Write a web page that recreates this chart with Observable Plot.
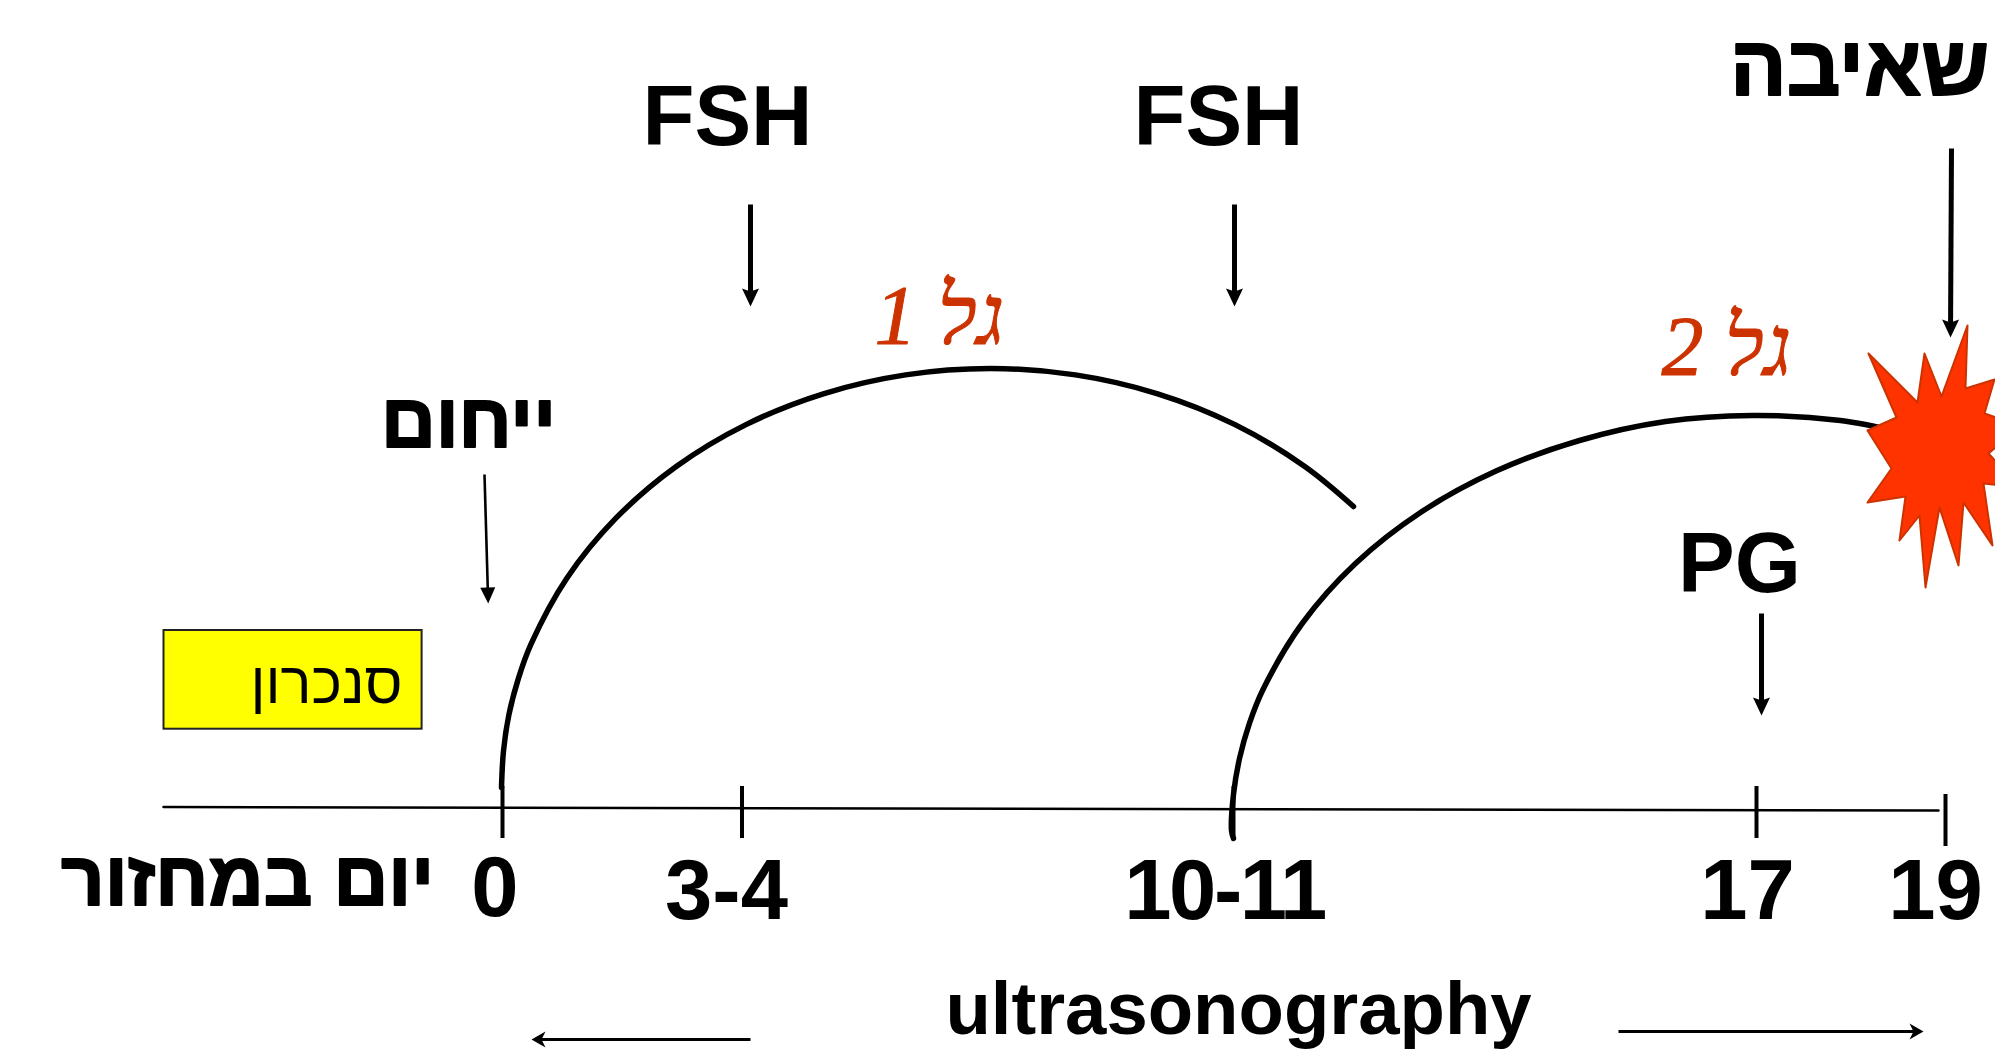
<!DOCTYPE html>
<html lang="he">
<head>
<meta charset="utf-8">
<title>Synchronisation protocol</title>
<style>
  html, body { margin: 0; padding: 0; background: #fff; overflow: hidden; }
  #chart svg { display: block; max-width: none; }
  .tight text { letter-spacing: -2.4px; }
</style>
<script src="https://cdn.jsdelivr.net/npm/d3@7"></script>
<script src="https://cdn.jsdelivr.net/npm/@observablehq/plot@0.6"></script>
</head>
<body>
<div id="chart"></div>
<script>
// Diagram, in the picture's own units.
const dayTickX = [502, 741.5, 1233, 1756];
const lastDayTickX = [1945];
const dayTexts = ["0", "3-4", "17", "19"];
const dayTextX = [494.5, 726, 1747, 1935];
const dayTextY = [915, 918, 918, 918];
const wideDayText = ["10-11"];

const latinLabels = ["FSH", "FSH", "PG"];
const latinLabelX = [727, 1218, 1739];
const latinLabelY = [144, 144, 591];

const hebrewLabels = ["ייחום", "יום במחזור"];
const hebrewLabelX = [468, 247];
const hebrewLabelY = [446, 904];
const pumpLabel = ["שאיבה"];

const waveLabels = ["1 גל", "2 גל"];
const waveLabelX = [939, 1726];
const waveLabelY = [343, 374];

const axisXs = [163, 1938];
const axisYs = [806.5, 810];

const wave1 = [[501,787],[503,750.5],[508.4,714.3],[517.7,678.6],[530.5,643.7],[566.5,577.5],[615.4,517.7],[675.7,466],[745.5,424.1],[822.8,393.3],[905.1,374.4],[990,368],[1074.9,374.4],[1157.2,393.3],[1234.5,424.1],[1304.3,466],[1353,506]];
const wave2 = [[1233,838],[1231,830],[1233,793.8],[1239,758],[1249,722.6],[1263,688],[1302,622.5],[1355,563],[1420,512],[1495.5,470.6],[1579,440],[1665,421],[1752,415],[1840,420],[1897,431]];
const burst = [[1867,430],[1896,417],[1868,353],[1917,402],[1924,353],[1941,396],[1967,325],[1965,388],[1994,379],[1984,413],[2020,425],[1988,453],[2020,487],[1983,483],[1992,545],[1963,502],[1958,565],[1939,507],[1925,587],[1919,515],[1899,540],[1905,496],[1867,502],[1891,468],[1867,430]];

// From x, from y, to x, to y.
const heavyArrows = [[750,204,750,306],[1234,204,1234,306],[1761,613,1761,715],[1951,148,1950,337]];
const thinArrows = [[484,474,487.7,603]];
const timeArrows = [[750,1039,531,1039],[1618,1031,1923,1031]];

const syncBox = [[163.5, 421.6, 630, 728.7]];
const syncText = ["סנכרון"];

const SANS = "Liberation Sans, Arial, sans-serif";
const head = (w, l, n) => ({
  draw(c) { c.moveTo(0, 0); c.lineTo(w, -l); c.lineTo(0, -n); c.lineTo(-w, -l); c.closePath(); }
});
const angle = ([x1, y1, x2, y2]) => Math.atan2(x1 - x2, y2 - y1) * 180 / Math.PI;
const trim = (a, by) => {
  const [x1, y1, x2, y2] = a, d = Math.hypot(x2 - x1, y2 - y1);
  return [x1, y1, x2 - (x2 - x1) / d * by, y2 - (y2 - y1) / d * by];
};
const shaft = (data, width, by) => Plot.link(data.map(a => trim(a, by)), {
  x1: d => d[0], y1: d => d[1], x2: d => d[2], y2: d => d[3], stroke: "#000", strokeWidth: width
});
const tips = (data, symbol) => Plot.dot(data, {
  x: d => d[2], y: d => d[3], r: 1, symbol, rotate: angle, fill: "#000", stroke: "none"
});
const labels = (texts, xs, ys, options) => Plot.text(texts, {
  x: (d, i) => xs[i], y: (d, i) => ys[i], text: d => d,
  textAnchor: "middle", lineAnchor: "bottom", fill: "#000", fontFamily: SANS, ...options
});

const chart = Plot.plot({
  width: 1995, height: 1049,
  marginTop: 0, marginRight: 0, marginBottom: 0, marginLeft: 0,
  style: { background: "#fff", overflow: "hidden" },
  x: { domain: [0, 1995], range: [0, 1995], axis: null },
  y: { domain: [0, 1049], range: [0, 1049], axis: null },
  marks: [
    Plot.rect(syncBox, {
      x1: d => d[0], x2: d => d[1], y1: d => d[2], y2: d => d[3],
      fill: "#ffff00", stroke: "#222", strokeWidth: 2
    }),
    labels(syncText, [326], [702], { fontSize: 58 }),

    Plot.line(axisXs.map((x, i) => [x, axisYs[i]]), { x: d => d[0], y: d => d[1], stroke: "#000", strokeWidth: 2.5 }),
    Plot.ruleX(dayTickX, { y1: 786, y2: 838, stroke: "#000", strokeWidth: 4 }),
    Plot.ruleX(lastDayTickX, { y1: 794, y2: 846, stroke: "#000", strokeWidth: 4 }),

    Plot.line(wave1, { x: d => d[0], y: d => d[1], curve: "catmull-rom", stroke: "#000", strokeWidth: 5.5, strokeLinecap: "round" }),
    Plot.line(wave2, { x: d => d[0], y: d => d[1], curve: "catmull-rom", stroke: "#000", strokeWidth: 5.5, strokeLinecap: "round" }),
    Plot.line(burst, { x: d => d[0], y: d => d[1], fill: "#ff3300", stroke: "#cc3300", strokeWidth: 2, clip: true }),

    shaft(heavyArrows, 5, 12), tips(heavyArrows, head(8.5, 18, 15)),
    shaft(thinArrows, 2.6, 12), tips(thinArrows, head(7.5, 16, 16)),
    shaft(timeArrows, 3, 8), tips(timeArrows, head(8, 14, 10)),

    labels(dayTexts, dayTextX, dayTextY, { fontSize: 85, fontWeight: 700 }),
    labels(wideDayText, [1224], [918], { fontSize: 85, fontWeight: 700, className: "tight" }),
    labels(latinLabels, latinLabelX, latinLabelY, { fontSize: 85, fontWeight: 700 }),
    labels(hebrewLabels, hebrewLabelX, hebrewLabelY, { fontSize: 76, fontWeight: 700, stroke: "#000", strokeWidth: 2 }),
    labels(pumpLabel, [1859], [94], { fontSize: 84, fontWeight: 700, stroke: "#000", strokeWidth: 2 }),
    labels(["ultrasonography"], [1238], [1033], { fontSize: 74.3, fontWeight: 700 }),
    labels(waveLabels, waveLabelX, waveLabelY, {
      fontSize: 84, fontStyle: "italic", fontFamily: "Liberation Serif, serif",
      fill: "#cc3300", stroke: "#cc3300", strokeWidth: 1
    })
  ]
});
document.getElementById("chart").append(chart);
</script>
</body>
</html>
